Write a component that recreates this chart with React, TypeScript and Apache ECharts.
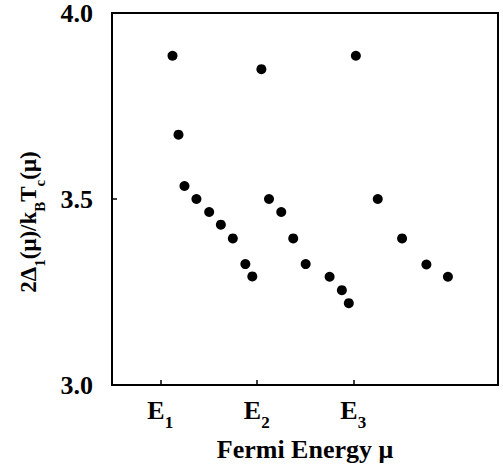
import React, { useEffect, useRef } from "react";
import * as echarts from "echarts";

// Branch near E1
const branch1X = [1.127, 1.189, 1.251, 1.375, 1.507, 1.628, 1.752, 1.882, 1.954];
const branch1Y = [3.885, 3.673, 3.535, 3.5, 3.465, 3.431, 3.394, 3.325, 3.292];
// Branch near E2
const branch2X = [2.048, 2.127, 2.254, 2.378, 2.507, 2.755, 2.882, 2.954];
const branch2Y = [3.849, 3.5, 3.465, 3.394, 3.325, 3.291, 3.255, 3.22];
// Branch near E3
const branch3X = [3.027, 3.254, 3.506, 3.758, 3.981];
const branch3Y = [3.885, 3.5, 3.394, 3.324, 3.291];

const xTickValues = [1, 2, 3];
const xTickSubscripts = ["1", "2", "3"];
const yTickValues = [3.0, 3.5, 4.0];

const FONT = "Liberation Serif";

const zip = (xs: number[], ys: number[]) => xs.map((x, i) => [x, ys[i]]);

export default function App() {
  const ref = useRef<HTMLDivElement>(null);
  useEffect(() => {
    document.body.style.margin = "0";
    const chart = echarts.init(ref.current!, undefined, { renderer: "svg" });
    const plainTok = {
      fontSize: 26,
      fontWeight: "bold" as const,
      fontFamily: FONT,
      color: "#000",
    };
    const mainTok = {
      ...plainTok,
      verticalAlign: "top" as const,
      padding: [0, 0, 8, 0],
    };
    const subTok = {
      fontSize: 17,
      fontWeight: "bold" as const,
      fontFamily: FONT,
      color: "#000",
      verticalAlign: "bottom" as const,
    };
    const nameMainTok = {
      fontSize: 23,
      fontWeight: "bold" as const,
      fontFamily: FONT,
      color: "#000",
      verticalAlign: "top" as const,
      padding: [0, 0, 7, 0],
    };
    const nameSubTok = {
      fontSize: 15,
      fontWeight: "bold" as const,
      fontFamily: FONT,
      color: "#000",
      verticalAlign: "bottom" as const,
    };
    const markerStyle = { color: "#000", opacity: 1 };
    chart.setOption({
      animation: false,
      backgroundColor: "#fff",
      textStyle: { fontFamily: FONT, fontWeight: "bold", color: "#000" },
      grid: {
        left: 112,
        right: 5,
        top: 11,
        bottom: 81,
        show: true,
        borderColor: "#000",
        borderWidth: 2,
        backgroundColor: "transparent",
      },
      xAxis: {
        type: "value",
        min: 0.5,
        max: 4.5,
        name: "{t|Fermi Energy μ}",
        nameLocation: "middle",
        nameGap: 51,
        nameTextStyle: {
          fontSize: 26,
          fontWeight: "bold",
          fontFamily: FONT,
          color: "#000",
          rich: { t: plainTok },
        },
        axisLine: { show: true, lineStyle: { color: "#000", width: 2 } },
        axisTick: {
          show: true,
          inside: true,
          length: 5,
          customValues: xTickValues,
          lineStyle: { color: "#000", width: 1.5 },
        },
        axisLabel: {
          customValues: xTickValues,
          margin: 12,
          formatter: (v: number) => {
            const i = xTickValues.indexOf(Math.round(v));
            return `{e|E}{s|${xTickSubscripts[i]}}`;
          },
          rich: { e: mainTok, s: subTok },
        },
        splitLine: { show: false },
      },
      yAxis: {
        type: "value",
        min: 3,
        max: 4,
        interval: 0.5,
        axisLine: { show: true, lineStyle: { color: "#000", width: 2 } },
        axisTick: {
          show: true,
          inside: true,
          length: 5,
          lineStyle: { color: "#000", width: 1.5 },
        },
        axisLabel: {
          margin: 19,
          fontSize: 26,
          fontWeight: "bold",
          fontFamily: FONT,
          color: "#000",
          formatter: (v: number) =>
            yTickValues.some((t) => Math.abs(t - v) < 1e-9)
              ? `{t|${v.toFixed(1)}}`
              : "",
          rich: { t: plainTok },
        },
        splitLine: { show: false },
      },
      graphic: [
        {
          type: "text",
          x: 32,
          y: 222,
          rotation: Math.PI / 2,
          style: {
            text: "{n|2Δ}{s|1}{n|(μ)/k}{s|B}{n|T}{s|c}{n|(μ)}",
            align: "center",
            verticalAlign: "middle",
            rich: { n: nameMainTok, s: nameSubTok },
          },
        },
      ],
      series: [
        {
          type: "scatter",
          symbol: "circle",
          symbolSize: 10,
          itemStyle: markerStyle,
          data: zip(branch1X, branch1Y),
        },
        {
          type: "scatter",
          symbol: "circle",
          symbolSize: 10,
          itemStyle: markerStyle,
          data: zip(branch2X, branch2Y),
        },
        {
          type: "scatter",
          symbol: "circle",
          symbolSize: 10,
          itemStyle: markerStyle,
          data: zip(branch3X, branch3Y),
        },
      ],
    });
    return () => chart.dispose();
  }, []);
  return <div ref={ref} style={{ width: 503, height: 467 }} />;
}
